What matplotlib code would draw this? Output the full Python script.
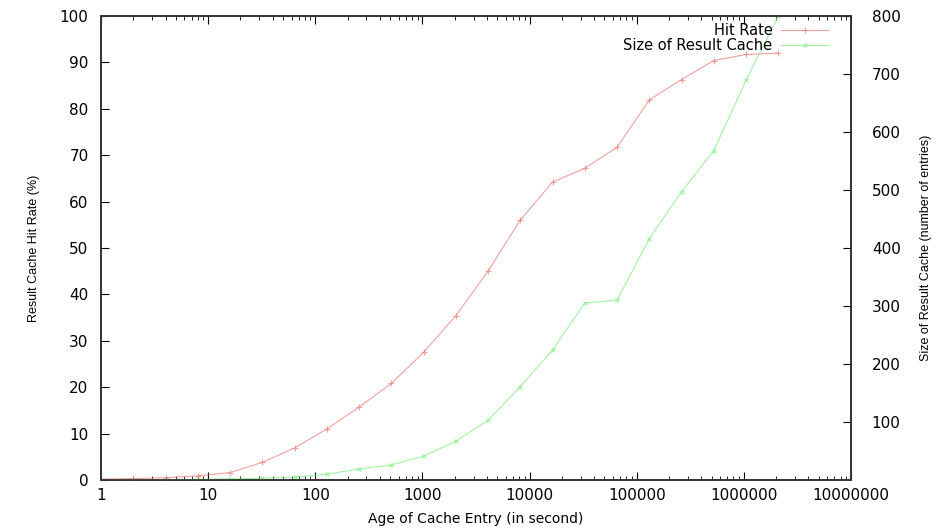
import matplotlib.pyplot as plt
import numpy as np
from matplotlib.ticker import FixedLocator, NullFormatter, LogLocator

plt.rcParams['font.family'] = ['DejaVu Sans']

# age of cache entry (seconds), powers of two
age = [1, 2, 4, 8, 16, 32, 64, 128, 256, 512, 1024, 2048, 4096, 8192,
       16384, 32768, 65536, 131072, 262144, 524288, 1048576, 2097152]
# hit rate (%)
hit_rate = [0.2, 0.3, 0.5, 0.9, 1.6, 3.8, 6.9, 11.0, 15.7, 20.8, 27.5, 35.4,
            45.0, 56.0, 64.2, 67.2, 71.7, 81.9, 86.3, 90.4, 91.7, 92.0]
# size of result cache (entries)
cache_size = [0, 0, 0.5, 1, 2, 3, 5, 10, 19, 26, 41, 67, 103, 161, 224, 305,
              310, 416, 497, 568, 689, 800]

x_ticks = [1, 10, 100, 1000, 10000, 100000, 1000000, 10000000]
y1_ticks = list(range(0, 101, 10))
y2_ticks = list(range(100, 801, 100))

fig = plt.figure(figsize=(9.38, 5.29), dpi=100)
ax = fig.add_axes([0.1077, 0.0926, 0.7995, 0.8772])
ax2 = ax.twinx()

l1, = ax.plot(age, hit_rate, color='#f08080', lw=0.8, marker='+',
              markersize=4, mew=0.8, label='Hit Rate', alpha=0.75)
l2, = ax2.plot(age, cache_size, color='#80f080', lw=0.8, marker='x',
               markersize=3.5, mew=0.8, label='Size of Result Cache', alpha=0.75)

ax.set_xscale('log')
ax.set_xlim(1, 1e7)
ax.set_ylim(0, 100)
ax2.set_ylim(0, 800)

ax.xaxis.set_major_locator(FixedLocator(x_ticks))
ax.set_xticklabels([str(t) for t in x_ticks])
ax.xaxis.set_minor_locator(LogLocator(base=10, subs=np.arange(2, 10)))
ax.xaxis.set_minor_formatter(NullFormatter())
ax.set_yticks(y1_ticks)
ax2.set_yticks(y2_ticks)

ax.tick_params(axis='x', which='both', direction='in', top=True, labelsize=11)
ax.tick_params(axis='x', which='major', length=6, pad=6)
ax.tick_params(axis='x', which='minor', length=3)
ax.tick_params(axis='y', direction='in', length=6, labelsize=11, right=False, pad=9)
ax2.tick_params(axis='y', direction='in', length=6, labelsize=11, pad=15)
ax2.tick_params(axis='x', which='both', top=False)

for a in (ax, ax2):
    for s in a.spines.values():
        s.set_color('#333333')
        s.set_linewidth(1.2)

ax.set_xlabel('Age of Cache Entry (in second)', fontsize=10, labelpad=6)
ax.set_ylabel('Result Cache Hit Rate (%)', fontsize=9, labelpad=14,
              family='Liberation Sans')
ax2.set_ylabel('Size of Result Cache (number of entries)', fontsize=9,
               labelpad=14, family='Liberation Sans')

ax2.legend([l1, l2], ['Hit Rate', 'Size of Result Cache'], loc='upper right',
           bbox_to_anchor=(0.983, 1.007), frameon=False, markerfirst=False,
           handlelength=3.2, fontsize=10.5, borderpad=0.2, labelspacing=0.0,
           handletextpad=0.6)

fig.savefig('out.png', dpi=100)
